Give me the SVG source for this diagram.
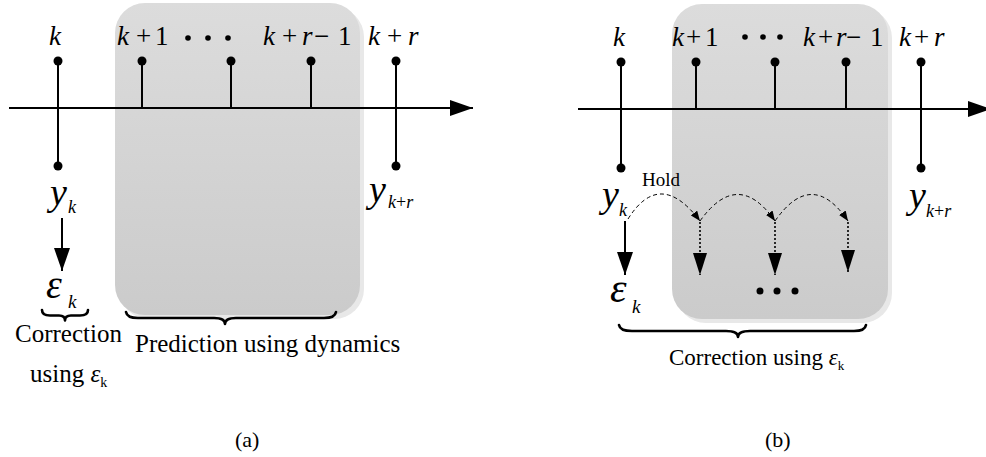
<svg xmlns="http://www.w3.org/2000/svg" width="986" height="457" viewBox="0 0 986 457">
<style>
text{font-family:"Liberation Serif","Times New Roman",serif;fill:#000}
.it{font-style:italic}
.ax{stroke:#000;stroke-width:2;fill:none}
.stem{stroke:#000;stroke-width:2;fill:none}
.dot{fill:#000}
.brace{stroke:#000;stroke-width:2.6;fill:none;stroke-linecap:round;stroke-linejoin:round}
.dash{stroke:#000;stroke-width:1;fill:none;stroke-dasharray:4 3}
.dotl{stroke:#000;stroke-width:1.6;fill:none;stroke-dasharray:2 2}
.shadow{fill:#e8e8e8}
.box{fill:url(#grad)}
.lab{font-size:27px}
</style>
<defs>
<linearGradient id="grad" x1="0" y1="0" x2="0" y2="1">
<stop offset="0" stop-color="#dcdcdc"/>
<stop offset="1" stop-color="#cbcbcb"/>
</linearGradient>
<marker id="big" markerUnits="userSpaceOnUse" markerWidth="23" markerHeight="16" refX="23" refY="8" orient="auto">
<path d="M0,0 L23,8 L0,16 z" fill="#000"/>
</marker>
<marker id="mid" markerUnits="userSpaceOnUse" markerWidth="22" markerHeight="14" refX="22" refY="7" orient="auto">
<path d="M0,0 L22,7 L0,14 z" fill="#000"/>
</marker>
<marker id="small" markerUnits="userSpaceOnUse" markerWidth="10" markerHeight="8" refX="10" refY="4" orient="auto">
<path d="M0,0 L10,4 L0,8 z" fill="#000"/>
</marker>
</defs>

<!-- Panel (a) -->
<g id="a-box">
<rect class="shadow" x="119" y="7" width="245" height="312" rx="30"/>
<rect class="box" x="115" y="3" width="245" height="312" rx="30"/>
</g>
<g id="a-connectors">
<line class="ax" x1="9" y1="108" x2="473" y2="108" marker-end="url(#big)"/>
<line class="stem" x1="58" y1="61" x2="58" y2="166"/>
<line class="stem" x1="142" y1="61" x2="142" y2="108"/>
<line class="stem" x1="231" y1="61" x2="231" y2="108"/>
<line class="stem" x1="311" y1="61" x2="311" y2="108"/>
<line class="stem" x1="396" y1="61" x2="396" y2="166"/>
<line class="stem" x1="62" y1="218" x2="62" y2="271" marker-end="url(#big)"/>
<path class="brace" d="M42,310 Q42,315.5 50,315.5 L59,315.5 Q65,315.5 65,320.5 Q65,315.5 71,315.5 L80,315.5 Q88,315.5 88,310"/>
<path class="brace" d="M126,312 Q127,318 138,318 L214,318 Q225,318 225,324 Q225,318 236,318 L324,318 Q335,318 336,312"/>
</g>
<g id="a-dots">
<circle class="dot" cx="58" cy="61" r="4.5"/>
<circle class="dot" cx="58" cy="166" r="4.5"/>
<circle class="dot" cx="142" cy="61" r="4.5"/>
<circle class="dot" cx="231" cy="61" r="4.5"/>
<circle class="dot" cx="311" cy="61" r="4.5"/>
<circle class="dot" cx="396" cy="61" r="4.5"/>
<circle class="dot" cx="396" cy="166" r="4.5"/>
<circle class="dot" cx="188" cy="38" r="2.8"/>
<circle class="dot" cx="208" cy="38" r="2.8"/>
<circle class="dot" cx="228" cy="38" r="2.8"/>
</g>
<g id="a-top-labels" class="lab">
<text x="49" y="45" class="it">k</text>
<text y="45"><tspan x="117" class="it">k</tspan><tspan x="136">+</tspan><tspan x="155">1</tspan></text>
<text y="45"><tspan x="263" class="it">k</tspan><tspan x="282">+</tspan><tspan x="302" class="it">r</tspan><tspan x="314">−</tspan><tspan x="338">1</tspan></text>
<text y="45"><tspan x="368" class="it">k</tspan><tspan x="387">+</tspan><tspan x="408" class="it">r</tspan></text>
</g>
<g id="a-yk">
<text x="50" y="205" class="it" font-size="38">y</text>
<text x="68" y="213" class="it" font-size="18">k</text>
</g>
<g id="a-ykr">
<text x="369" y="202" class="it" font-size="38">y</text>
<text y="208" font-size="18"><tspan x="388" class="it">k</tspan><tspan>+</tspan><tspan class="it">r</tspan></text>
</g>
<g id="a-eps">
<text x="46" y="298" class="it" font-size="40">ε</text>
<text x="68" y="308" class="it" font-size="19">k</text>
</g>
<g id="a-texts">
<text x="15" y="342" font-size="25">Correction</text>
<text x="135" y="352" font-size="25">Prediction using dynamics</text>
<text x="30" y="382" font-size="25">using <tspan class="it">ε</tspan><tspan font-size="14" dy="5">k</tspan></text>
<text x="235" y="447" font-size="22">(a)</text>
</g>

<!-- Panel (b) -->
<g id="b-box">
<rect class="shadow" x="676" y="8" width="216" height="315" rx="30"/>
<rect class="box" x="672" y="4" width="216" height="315" rx="30"/>
</g>
<g id="b-connectors">
<line class="ax" x1="578" y1="109" x2="991" y2="109" marker-end="url(#big)"/>
<line class="stem" x1="621" y1="62" x2="621" y2="168"/>
<line class="stem" x1="696" y1="62" x2="696" y2="109"/>
<line class="stem" x1="775" y1="62" x2="775" y2="109"/>
<line class="stem" x1="846" y1="62" x2="846" y2="109"/>
<line class="stem" x1="921" y1="62" x2="921" y2="168"/>
<path class="dash" d="M628,219 Q660,168 700,221" marker-end="url(#small)"/>
<path class="dash" d="M700,221 Q738,168 775,221" marker-end="url(#small)"/>
<path class="dash" d="M775,221 Q812,168 848,221" marker-end="url(#small)"/>
<line class="dotl" x1="700" y1="222" x2="700" y2="275" marker-end="url(#mid)"/>
<line class="dotl" x1="775" y1="222" x2="775" y2="275" marker-end="url(#mid)"/>
<line class="dotl" x1="848" y1="222" x2="848" y2="272" marker-end="url(#mid)"/>
<line class="stem" x1="625" y1="221" x2="625" y2="275" marker-end="url(#big)"/>
<path class="brace" d="M619,325 Q620,331 632,331 L726,331 Q738,331 738,337 Q738,331 750,331 L854,331 Q865,331 866,325"/>
</g>
<g id="b-dots">
<circle class="dot" cx="621" cy="62" r="4.5"/>
<circle class="dot" cx="621" cy="168" r="4.5"/>
<circle class="dot" cx="696" cy="62" r="4.5"/>
<circle class="dot" cx="775" cy="62" r="4.5"/>
<circle class="dot" cx="846" cy="62" r="4.5"/>
<circle class="dot" cx="921" cy="62" r="4.5"/>
<circle class="dot" cx="921" cy="168" r="4.5"/>
<circle class="dot" cx="745" cy="37" r="2.8"/>
<circle class="dot" cx="763" cy="37" r="2.8"/>
<circle class="dot" cx="780" cy="37" r="2.8"/>
<circle class="dot" cx="760" cy="291" r="3.5"/>
<circle class="dot" cx="777" cy="291" r="3.5"/>
<circle class="dot" cx="795" cy="291" r="3.5"/>
</g>
<g id="b-top-labels" class="lab">
<text x="613" y="46" class="it">k</text>
<text y="46"><tspan x="672" class="it">k</tspan><tspan x="686">+</tspan><tspan x="705">1</tspan></text>
<text y="46"><tspan x="803" class="it">k</tspan><tspan x="818">+</tspan><tspan x="836" class="it">r</tspan><tspan x="846">−</tspan><tspan x="870">1</tspan></text>
<text y="46"><tspan x="899" class="it">k</tspan><tspan x="914">+</tspan><tspan x="934" class="it">r</tspan></text>
</g>
<g id="b-hold">
<text x="642" y="186" font-size="19">Hold</text>
</g>
<g id="b-yk">
<text x="602" y="207" class="it" font-size="38">y</text>
<text x="619" y="216" class="it" font-size="18">k</text>
</g>
<g id="b-ykr">
<text x="909" y="208" class="it" font-size="38">y</text>
<text y="217" font-size="18"><tspan x="926" class="it">k</tspan><tspan>+</tspan><tspan class="it">r</tspan></text>
</g>
<g id="b-eps">
<text x="610" y="302" class="it" font-size="42">ε</text>
<text x="632" y="313" class="it" font-size="19">k</text>
</g>
<g id="b-texts">
<text x="669" y="365" font-size="23">Correction using <tspan class="it">ε</tspan><tspan font-size="13" dy="5">k</tspan></text>
<text x="765" y="447" font-size="22">(b)</text>
</g>
</svg>
